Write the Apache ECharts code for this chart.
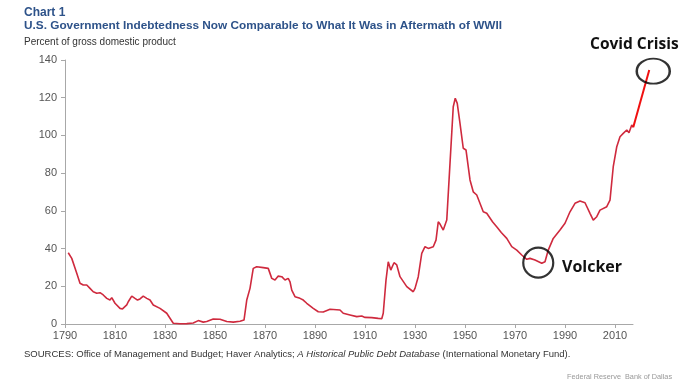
<!DOCTYPE html>
<html><head><meta charset="utf-8">
<script src="https://cdn.jsdelivr.net/npm/echarts@6/dist/echarts.min.js"></script>
<style>html,body{margin:0;padding:0;background:#fff}#c{width:700px;height:391px}</style>
</head><body><div id="c"></div>
<script>
const years = [1791.3,1792.7,1793.3,1794.7,1796,1797.3,1798.7,1800,1801.3,1802.7,1804,1805.3,1806.7,1808,1808.7,1810,1812,1813,1814.7,1815.3,1816.7,1818,1819,1820,1821.3,1822.7,1824,1825.3,1828,1830.7,1833.3,1836,1838.7,1841.3,1843.3,1845.3,1846.7,1849.3,1852,1854.7,1857.3,1860,1861.6,1862.7,1864,1865.3,1866.7,1869.3,1871.3,1872.7,1874,1875.3,1876.7,1878,1879.3,1880,1880.7,1882,1884,1885.3,1886.7,1889.3,1891.3,1893.3,1896,1900,1901.3,1904,1906.7,1908.7,1910,1912.7,1915.3,1916.7,1917.3,1918.4,1919.3,1920.3,1921.6,1922.7,1924,1926.7,1929.3,1930,1931.3,1932.7,1934,1935.3,1937.3,1938.4,1939.3,1940,1941.3,1942.7,1944,1945.3,1946.1,1946.9,1948,1949.3,1950.4,1952,1953.3,1954.7,1957.3,1958.7,1961,1963,1964.5,1966.7,1968.7,1970.7,1972.7,1974.7,1976,1978,1980.7,1982,1983.3,1985.3,1988,1990,1992,1994,1996,1998,2000,2001.3,2002.7,2004,2006.7,2008,2009.3,2010.7,2012,2013.3,2014.7,2015.6,2016.7,2017.3];
const debtPct = [37.8,34.8,33.9,26.9,21.6,20.7,20.7,18.9,17.1,16.3,16.6,15.4,13.6,12.7,14.0,11.0,8.3,8.0,10.1,11.8,14.8,13.6,12.7,13.3,14.8,13.6,12.7,10.1,8.3,5.7,0.4,0.1,0.2,0.5,1.8,1.0,1.3,2.6,2.5,1.3,1.0,1.5,2.1,12.7,18.9,29.5,30.4,29.9,29.5,24.2,23.3,25.4,25.1,23.3,24.2,22.4,18.0,14.5,13.6,12.7,11.0,8.3,6.5,6.4,7.8,7.4,5.7,4.8,3.9,4.2,3.5,3.4,3.0,2.8,5.7,23.3,33.0,28.6,32.5,31.3,25.1,19.8,17.1,18.9,25.1,37.5,41.0,40.1,41.0,44.5,54.2,53.0,49.8,55.1,85.2,115.2,119.7,117.0,106.4,93.2,92.3,76.4,70.1,68.4,59.5,58.7,54.2,51.0,48.5,45.4,41.0,39.2,36.6,34.3,34.8,33.9,32.2,33.0,39.2,45.4,49.8,53.4,59.5,64.0,65.2,64.3,58.7,55.1,56.9,60.4,62.2,65.7,83.4,94.0,99.3,101.1,102.9,101.4,105.5,104.3];
const covidYears = [2017.3, 2023.7];
const covidPct = [104.3, 134.7];
const xTicks = [1790,1810,1830,1850,1870,1890,1910,1930,1950,1970,1990,2010];
const yTicks = [0,20,40,60,80,100,120,140];
const circleYears = [1979.3, 2025.3];
const circlePct = [32.5, 134.1];

const chart = echarts.init(document.getElementById('c'));
const F = '"Liberation Sans", Arial, sans-serif';
chart.setOption({
  animation: false,
  grid: [
    {left: 65, right: 67, top: 60, bottom: 67},
    {left: 65, right: 35, top: 60, bottom: 67}
  ],
  xAxis: [{
    gridIndex: 0, type: 'value', min: 1790, max: 2017.2, interval: 20,
    axisLine: {lineStyle: {color: '#a8a8a8', width: 1}},
    axisTick: {show: true, length: 4, customValues: xTicks, lineStyle: {color: '#a8a8a8'}},
    axisLabel: {customValues: xTicks, formatter: v => String(v), color: '#555', fontFamily: F, fontSize: 11, margin: 6},
    splitLine: {show: false}
  }, {
    gridIndex: 1, type: 'value', min: 1790, max: 2030, show: false
  }],
  yAxis: [{
    gridIndex: 0, type: 'value', min: 0, max: 140, interval: 20,
    axisLine: {show: true, lineStyle: {color: '#a8a8a8', width: 1}},
    axisTick: {show: true, length: 4, customValues: yTicks, lineStyle: {color: '#a8a8a8'}},
    axisLabel: {color: '#555', fontFamily: F, fontSize: 11, margin: 8},
    splitLine: {show: false}
  }, {
    gridIndex: 1, type: 'value', min: 0, max: 140, show: false
  }],
  series: [
    {type: 'line', xAxisIndex: 0, yAxisIndex: 0, data: years.map((y, i) => [y, debtPct[i]]), symbol: 'none', clip: false,
     lineStyle: {color: '#cf2a3e', width: 1.6}, z: 3},
    {type: 'line', xAxisIndex: 1, yAxisIndex: 1, data: covidYears.map((y, i) => [y, covidPct[i]]), symbol: 'none',
     lineStyle: {color: '#f01010', width: 2}, z: 4},
    {type: 'scatter', xAxisIndex: 1, yAxisIndex: 1, data: circleYears.map((y, i) => [y, circlePct[i]]),
     symbol: 'circle',
     symbolSize: function (v, p) { return p.dataIndex === 0 ? [30, 30] : [33, 25]; },
     itemStyle: {color: 'rgba(0,0,0,0)', borderColor: '#000', borderWidth: 2.2}, z: 5}
  ],
  graphic: [
    {type: 'text', left: 24, top: 7, style: {text: 'Chart 1', font: 'bold 12px ' + F, fill: '#2d5289'}},
    {type: 'text', left: 24, top: 20, style: {text: 'U.S. Government Indebtedness Now Comparable to What It Was in Aftermath of WWII', font: 'bold 11.8px ' + F, fill: '#2d5289'}},
    {type: 'text', left: 24, top: 37, style: {text: 'Percent of gross domestic product', font: '10px ' + F, fill: '#333'}},
    {type: 'text', left: 24, top: 349, style: {
      text: '{n|SOURCES: Office of Management and Budget; Haver Analytics; }{i|A Historical Public Debt Database}{n| (International Monetary Fund).}',
      rich: {n: {font: '9.5px ' + F, fill: '#333'}, i: {font: 'italic 9.5px ' + F, fill: '#333'}}}},
    {type: 'text', left: 567, top: 373, style: {text: 'Federal Reserve  Bank of Dallas', font: '7.3px ' + F, fill: '#999'}},
    {type: 'text', left: 562, top: 259, style: {text: 'Volcker', font: 'bold 16px "Open Sans", sans-serif', fill: '#111'}},
    {type: 'text', left: 590, top: 37, style: {text: 'Covid Crisis', font: 'bold 15.5px "Open Sans", sans-serif', fill: '#111'}}
  ]
});
</script></body></html>
